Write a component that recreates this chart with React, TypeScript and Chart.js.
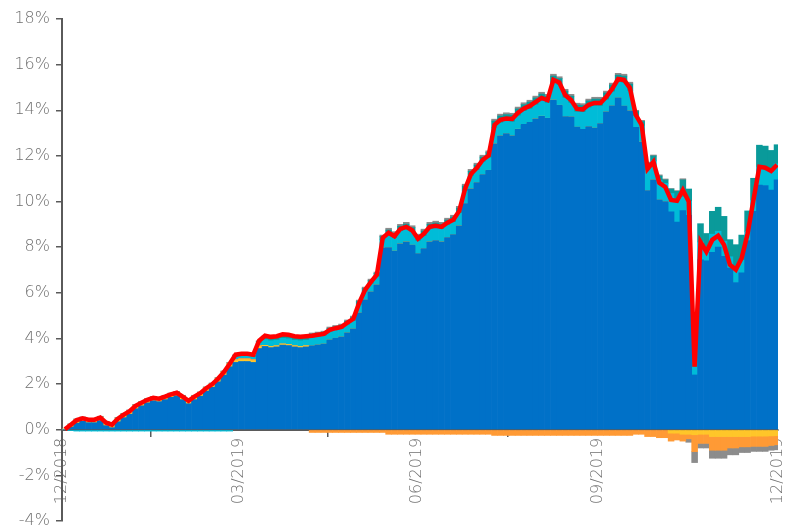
import React, { useEffect, useRef } from 'react';
import { Chart, registerables } from 'chart.js';

Chart.register(...registerables);

// Net total return (%), one value every 3 calendar days from 31/12/2018
const totalReturn = [
  0.02, 0.22, 0.42, 0.50, 0.44, 0.44, 0.53, 0.31, 0.22, 0.48,
  0.66, 0.81, 1.05, 1.18, 1.31, 1.40, 1.36, 1.45, 1.55, 1.62,
  1.45, 1.27, 1.45, 1.60, 1.82, 1.99, 2.23, 2.52, 2.89, 3.29,
  3.33, 3.33, 3.29, 3.90, 4.12, 4.07, 4.10, 4.18, 4.16, 4.10,
  4.07, 4.10, 4.12, 4.16, 4.20, 4.38, 4.45, 4.51, 4.69, 4.86,
  5.56, 6.13, 6.48, 6.79, 8.41, 8.63, 8.48, 8.80, 8.89, 8.74,
  8.37, 8.59, 8.89, 8.94, 8.89, 9.07, 9.20, 9.59, 10.56, 11.21,
  11.48, 11.83, 12.02, 13.36, 13.58, 13.64, 13.62, 13.89, 14.08, 14.19,
  14.37, 14.54, 14.45, 15.33, 15.22, 14.67, 14.45, 14.06, 14.04, 14.24,
  14.32, 14.32, 14.59, 14.94, 15.37, 15.33, 14.98, 13.80, 13.36, 11.43,
  11.74, 10.82, 10.64, 10.07, 10.03, 10.50, 10.00, 2.76, 8.23, 7.80,
  8.32, 8.50, 8.10, 7.23, 7.01, 7.53, 8.59, 10.07, 11.52, 11.48,
  11.34, 11.61,
];

const blueSeries = [
  0.00, 0.12, 0.29, 0.37, 0.31, 0.31, 0.40, 0.18, 0.09, 0.35,
  0.53, 0.68, 0.92, 1.05, 1.18, 1.27, 1.23, 1.32, 1.42, 1.49,
  1.32, 1.14, 1.32, 1.47, 1.69, 1.86, 2.10, 2.39, 2.76, 2.95,
  2.99, 2.99, 2.95, 3.56, 3.65, 3.60, 3.63, 3.71, 3.69, 3.63,
  3.60, 3.63, 3.68, 3.72, 3.76, 3.94, 4.01, 4.07, 4.25, 4.42,
  5.12, 5.69, 6.04, 6.35, 7.97, 7.98, 7.83, 8.15, 8.24, 8.09,
  7.72, 7.94, 8.24, 8.29, 8.24, 8.42, 8.55, 8.94, 9.91, 10.56,
  10.83, 11.18, 11.37, 12.53, 12.88, 12.98, 12.88, 13.17, 13.38, 13.47,
  13.63, 13.74, 13.65, 14.45, 14.22, 13.72, 13.71, 13.26, 13.16, 13.29,
  13.22, 13.42, 13.93, 14.19, 14.54, 14.18, 13.98, 13.25, 12.61, 10.48,
  10.95, 10.07, 10.00, 9.55, 9.10, 9.60, 9.40, 2.40, 7.45, 7.40,
  7.77, 8.00, 7.60, 7.08, 6.45, 6.88, 8.29, 9.57, 10.72, 10.70,
  10.50, 10.95,
];

const yellowSeries = [
  0.02, 0.08, 0.10, 0.10, 0.10, 0.10, 0.10, 0.10, 0.10, 0.10,
  0.10, 0.10, 0.10, 0.10, 0.10, 0.10, 0.10, 0.10, 0.10, 0.10,
  0.10, 0.10, 0.10, 0.10, 0.10, 0.10, 0.10, 0.10, 0.10, 0.08,
  0.08, 0.08, 0.08, 0.08, 0.05, 0.05, 0.05, 0.05, 0.05, 0.05,
  0.05, 0.05, 0, 0, 0, 0, 0, 0, 0, 0,
  0, 0, 0, 0, 0, 0, 0, 0, 0, 0,
  0, 0, 0, 0, 0, 0, 0, 0, 0, 0,
  0, 0, 0, 0, 0, 0, 0, 0, 0, 0,
  0, 0, 0, 0, 0, 0, 0, 0, 0, 0,
  0, 0, 0, 0, 0, 0, 0, 0, 0, 0,
  0, 0, 0, -0.15, -0.15, -0.20, -0.20, -0.22, -0.20, -0.20,
  -0.30, -0.30, -0.30, -0.30, -0.30, -0.30, -0.30, -0.28, -0.28, -0.28,
  -0.27, -0.26,
];

const orangeSeries = [
  0, 0.04, 0.06, 0.06, 0.06, 0.06, 0.06, 0.06, 0.06, 0.06,
  0.06, 0.06, 0.06, 0.06, 0.06, 0.06, 0.06, 0.06, 0.06, 0.06,
  0.06, 0.06, 0.06, 0.06, 0.06, 0.06, 0.06, 0.06, 0.06, 0.05,
  0.05, 0.05, 0.05, 0.05, 0, 0, 0, 0, 0, 0,
  0, 0, -0.12, -0.12, -0.12, -0.12, -0.12, -0.12, -0.12, -0.12,
  -0.12, -0.12, -0.12, -0.12, -0.12, -0.20, -0.20, -0.20, -0.20, -0.20,
  -0.20, -0.20, -0.20, -0.20, -0.20, -0.20, -0.20, -0.20, -0.20, -0.20,
  -0.20, -0.20, -0.20, -0.25, -0.25, -0.25, -0.25, -0.25, -0.25, -0.25,
  -0.25, -0.25, -0.25, -0.25, -0.25, -0.25, -0.25, -0.25, -0.25, -0.25,
  -0.25, -0.25, -0.25, -0.25, -0.25, -0.25, -0.25, -0.20, -0.20, -0.30,
  -0.30, -0.35, -0.35, -0.35, -0.30, -0.30, -0.20, -0.74, -0.40, -0.40,
  -0.60, -0.60, -0.60, -0.50, -0.50, -0.45, -0.45, -0.45, -0.45, -0.45,
  -0.42, -0.40,
];

const cyanSeries = [
  0, -0.04, -0.06, -0.06, -0.06, -0.06, -0.06, -0.06, -0.06, -0.06,
  -0.06, -0.06, -0.06, -0.06, -0.06, -0.06, -0.06, -0.06, -0.06, -0.06,
  -0.06, -0.06, -0.06, -0.06, -0.06, -0.06, -0.06, -0.06, -0.06, 0.10,
  0.10, 0.10, 0.10, 0.10, 0.25, 0.25, 0.25, 0.25, 0.25, 0.25,
  0.25, 0.25, 0.35, 0.35, 0.35, 0.35, 0.35, 0.35, 0.35, 0.35,
  0.35, 0.35, 0.35, 0.35, 0.35, 0.55, 0.55, 0.55, 0.55, 0.55,
  0.55, 0.55, 0.55, 0.55, 0.55, 0.55, 0.55, 0.55, 0.55, 0.55,
  0.55, 0.55, 0.55, 0.70, 0.57, 0.53, 0.61, 0.59, 0.57, 0.59,
  0.61, 0.67, 0.67, 0.75, 0.87, 0.82, 0.61, 0.67, 0.75, 0.82,
  0.97, 0.77, 0.53, 0.62, 0.70, 1.02, 0.87, 0.50, 0.70, 0.90,
  0.85, 0.85, 0.80, 0.80, 0.95, 0.60, 0.60, 0.35, 0.78, 0.60,
  0.80, 0.70, 0.65, 0.50, 0.66, 0.55, 0.40, 0.50, 0.79, 0.80,
  0.80, 0.70,
];

const tealSeries = [
  0, 0, 0, 0, 0, 0, 0, 0, 0, 0,
  0, 0, 0, 0, 0, 0, 0, 0, 0, 0,
  0, 0, 0, 0, 0, 0, 0, 0, 0, 0.08,
  0.08, 0.08, 0.08, 0.08, 0.12, 0.12, 0.12, 0.12, 0.12, 0.12,
  0.12, 0.12, 0.15, 0.15, 0.15, 0.15, 0.15, 0.15, 0.15, 0.15,
  0.15, 0.15, 0.15, 0.15, 0.15, 0.22, 0.22, 0.22, 0.22, 0.22,
  0.22, 0.22, 0.22, 0.22, 0.22, 0.22, 0.22, 0.22, 0.22, 0.22,
  0.22, 0.22, 0.22, 0.30, 0.30, 0.30, 0.30, 0.30, 0.30, 0.30,
  0.30, 0.30, 0.30, 0.30, 0.30, 0.30, 0.30, 0.30, 0.30, 0.30,
  0.30, 0.30, 0.30, 0.30, 0.30, 0.30, 0.30, 0.20, 0.20, 0.30,
  0.20, 0.20, 0.15, 0.20, 0.40, 0.75, 0.55, 1.45, 0.80, 0.60,
  1.00, 1.05, 1.10, 0.75, 1.00, 1.10, 0.90, 0.95, 0.96, 0.93,
  0.94, 0.84,
];

const graySeries = [
  0, 0.02, 0.03, 0.03, 0.03, 0.03, 0.03, 0.03, 0.03, 0.03,
  0.03, 0.03, 0.03, 0.03, 0.03, 0.03, 0.03, 0.03, 0.03, 0.03,
  0.03, 0.03, 0.03, 0.03, 0.03, 0.03, 0.03, 0.03, 0.03, 0.03,
  0.03, 0.03, 0.03, 0.03, 0.05, 0.05, 0.05, 0.05, 0.05, 0.05,
  0.05, 0.05, 0.06, 0.06, 0.06, 0.06, 0.06, 0.06, 0.06, 0.06,
  0.06, 0.06, 0.06, 0.06, 0.06, 0.08, 0.08, 0.08, 0.08, 0.08,
  0.08, 0.08, 0.08, 0.08, 0.08, 0.08, 0.08, 0.08, 0.08, 0.08,
  0.08, 0.08, 0.08, 0.08, 0.08, 0.08, 0.08, 0.08, 0.08, 0.08,
  0.08, 0.08, 0.08, 0.08, 0.08, 0.08, 0.08, 0.08, 0.08, 0.08,
  0.08, 0.08, 0.08, 0.08, 0.08, 0.08, 0.08, 0.05, 0.05, 0.05,
  0.04, 0.05, 0.04, 0.02, 0.03, 0.05, -0.15, -0.48, -0.20, -0.20,
  -0.35, -0.35, -0.35, -0.30, -0.30, -0.25, -0.25, -0.22, -0.22, -0.22,
  -0.21, -0.22,
];

const xTickDays = [0, 90, 181, 273, 365];
const xTickLabels = ['12/2018', '03/2019', '06/2019', '09/2019', '12/2019'];

const AXIS_COLOR = '#5a5a5a';
const LABEL_COLOR = '#707070';
const FONT = { family: '"DejaVu Sans", sans-serif', size: 16, weight: '200' as const };

export default function App() {
  const canvasRef = useRef<HTMLCanvasElement>(null);

  useEffect(() => {
    if (!canvasRef.current) return;
    const days = totalReturn.map((_, i) => i * 3 + 1.5);
    const pts = (arr: number[]) => arr.map((v, i) => ({ x: days[i], y: v }));
    const bar = (label: string, arr: number[], color: string) => ({
      type: 'bar' as const,
      label,
      data: pts(arr),
      backgroundColor: color,
      borderWidth: 0,
      barPercentage: 1,
      categoryPercentage: 1,
      stack: 'parts',
      order: 2,
    });

    const chart = new Chart(canvasRef.current, {
      type: 'bar',
      data: {
        datasets: [
          {
            type: 'line',
            label: 'Total',
            data: pts(totalReturn),
            borderColor: '#ff0000',
            borderWidth: 4.5,
            pointRadius: 0,
            tension: 0,
            fill: false,
            stack: 'total',
            order: 0,
          } as any,
          bar('Blue', blueSeries, '#0071c8'),
          bar('Yellow', yellowSeries, '#ffc629'),
          bar('Orange', orangeSeries, '#ff9a35'),
          bar('Cyan', cyanSeries, '#00bcd8'),
          bar('Teal', tealSeries, '#0a9a9a'),
          bar('Gray', graySeries, '#8c8c8c'),
        ],
      },
      options: {
        animation: false,
        responsive: true,
        maintainAspectRatio: false,
        layout: { padding: { top: 19, bottom: 19, left: 0, right: 10 } },
        plugins: { legend: { display: false }, tooltip: { enabled: false } },
        scales: {
          x: {
            type: 'linear',
            min: 0,
            max: 365,
            stacked: true,
            offset: false,
            position: { y: 0 } as any,
            grid: { drawOnChartArea: false, drawTicks: true, tickLength: 6, color: AXIS_COLOR, lineWidth: 1.5 },
            border: { display: true, color: AXIS_COLOR, width: 2 },
            afterBuildTicks: (scale: any) => {
              scale.ticks = xTickDays.map((v) => ({ value: v }));
            },
            afterFit: (scale: any) => {
              scale.paddingLeft = 0;
              scale.paddingRight = 0;
              scale.paddingTop = 0;
              scale.paddingBottom = 0;
            },
            ticks: {
              autoSkip: false,
              maxRotation: 90,
              minRotation: 90,
              padding: 2,
              color: LABEL_COLOR,
              font: FONT,
              callback: (v: any) => {
                const k = xTickDays.indexOf(Number(v));
                return k >= 0 ? xTickLabels[k] : '';
              },
            },
          },
          y: {
            type: 'linear',
            min: -4,
            max: 18,
            stacked: true,
            grid: { drawOnChartArea: false, drawTicks: true, tickLength: 6, color: AXIS_COLOR, lineWidth: 1.5 },
            border: { display: true, color: AXIS_COLOR, width: 2 },
            afterFit: (scale: any) => {
              scale.width = 62;
              scale.paddingTop = 0;
              scale.paddingBottom = 0;
            },
            ticks: {
              stepSize: 2,
              padding: 6,
              color: LABEL_COLOR,
              font: FONT,
              callback: (v: any) => `${v}%`,
            },
          },
        },
      },
    });
    return () => chart.destroy();
  }, []);

  return (
    <div style={{ position: 'fixed', left: 0, top: 0, width: 788, height: 540, background: '#fff' }}>
      <canvas ref={canvasRef} />
    </div>
  );
}
